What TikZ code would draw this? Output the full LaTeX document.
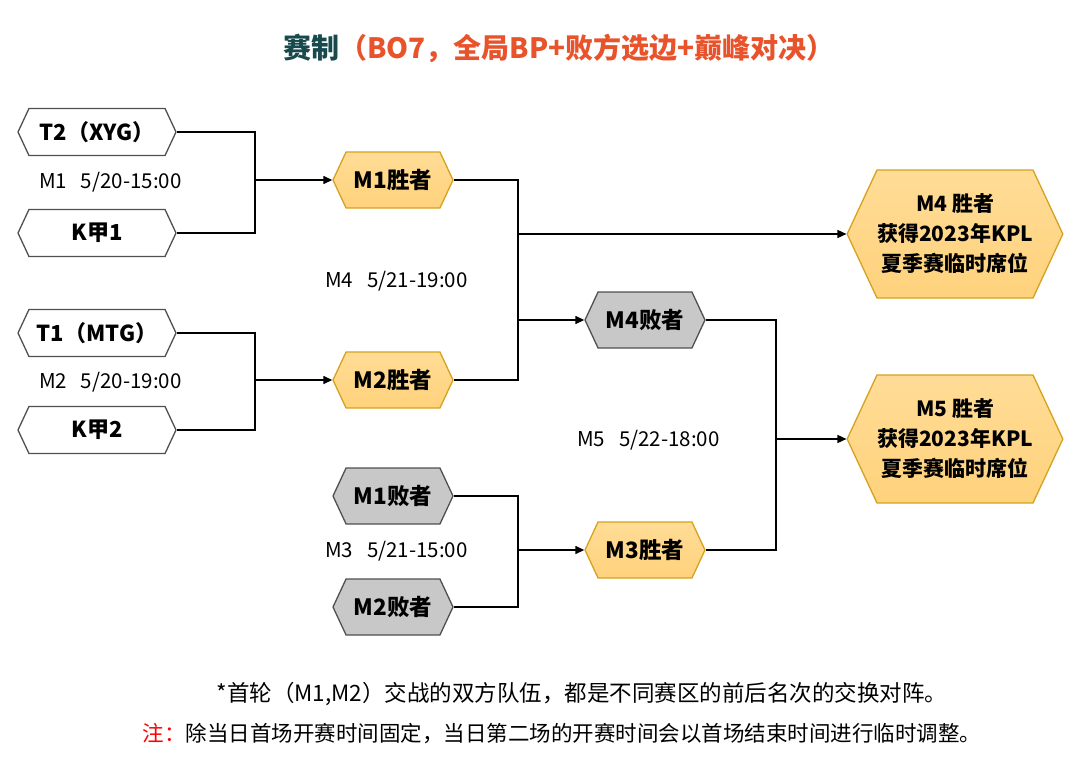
\documentclass[tikz,border=0pt]{standalone}
\usepackage{fontspec}
\setmainfont{Noto Sans CJK SC}
\usetikzlibrary{shapes.symbols,arrows.meta}
\definecolor{titleteal}{HTML}{17494D}
\definecolor{titleorange}{HTML}{E8532B}
\definecolor{goldborder}{HTML}{D6A21E}
\definecolor{goldtop}{HTML}{FFDC96}
\definecolor{goldbot}{HTML}{FFD27C}
\definecolor{grayfill}{HTML}{C8C8C8}
\definecolor{hexborder}{HTML}{505050}
\tikzset{
  hexbase/.style={signal, signal to=east and west, signal pointer angle=130,
    inner sep=0pt, line width=1.3pt, font=\fontsize{22.5}{26}\selectfont\bfseries},
  teambox/.style={hexbase, draw=hexborder, fill=white, minimum width=158pt, minimum height=47pt, font=\fontsize{22}{26}\selectfont\bfseries},
  winbox/.style={hexbase, draw=goldborder, top color=goldtop, bottom color=goldbot, minimum width=120pt, minimum height=56pt},
  losebox/.style={hexbase, draw=hexborder, fill=grayfill, minimum width=120pt, minimum height=56pt},
  finalbox/.style={hexbase, draw=goldborder, top color=goldtop, bottom color=goldbot, minimum width=214pt, minimum height=128pt, align=center, font=\fontsize{21}{30}\selectfont\bfseries},
  link/.style={line width=1.5pt, black},
  arr/.style={link, -{Triangle[length=9pt,width=8pt]}},
  matchlabel/.style={anchor=west, inner sep=0pt, font=\fontsize{20.5}{24}\selectfont},
  notetext/.style={inner sep=0pt, font=\fontsize{21.5}{24}\selectfont}
}
\begin{document}
\begin{tikzpicture}[x=1pt,y=-1pt]
\useasboundingbox (0,0) rectangle (1082,771);
% title
\node[inner sep=0pt, font=\fontsize{28}{32}\selectfont\bfseries] (title) at (559,48)
  {\textcolor{titleteal}{赛制}\textcolor{titleorange}{（BO7，全局BP+败方选边+巅峰对决）}};
% teams
\node[teambox] (t2) at (97,132) {T2（XYG）};
\node[teambox] (k1) at (97,233) {K甲1};
\node[teambox] (t1) at (97,333) {T1（MTG）};
\node[teambox] (k2) at (97,430) {K甲2};
% second column
\node[winbox] (m1w) at (393,180) {M1胜者};
\node[winbox] (m2w) at (393,380) {M2胜者};
\node[losebox] (m1l) at (393,496) {M1败者};
\node[losebox] (m2l) at (393,607) {M2败者};
% third column
\node[losebox] (m4l) at (645,320) {M4败者};
\node[winbox] (m3w) at (645,550) {M3胜者};
% finals
\node[finalbox] (f4) at (955,234) {M4 胜者\\获得2023年KPL\\夏季赛临时席位};
\node[finalbox] (f5) at (955,439) {M5 胜者\\获得2023年KPL\\夏季赛临时席位};
% match labels
\node[matchlabel] (l1) at (39,182) {M1\ \ \ 5/20-15:00};
\node[matchlabel] (l2) at (39,382) {M2\ \ \ 5/20-19:00};
\node[matchlabel] (l4) at (325,281) {M4\ \ \ 5/21-19:00};
\node[matchlabel] (l3) at (325,551) {M3\ \ \ 5/21-15:00};
\node[matchlabel] (l5) at (577,440) {M5\ \ \ 5/22-18:00};
% junctions
\coordinate (ja) at (255,180);
\coordinate (jb) at (255,380);
\coordinate (jc) at (518,320);
\coordinate (jc2) at (518,234);
\coordinate (jd) at (776,439);
\coordinate (je) at (518,550);
% connectors
\draw[link] (t2.east) -| (ja) |- (k1.east);
\draw[arr] (ja) -- (m1w.west);
\draw[link] (t1.east) -| (jb) |- (k2.east);
\draw[arr] (jb) -- (m2w.west);
\draw[link] (m1w.east) -| (jc) |- (m2w.east);
\draw[arr] (jc) -- (m4l.west);
\draw[arr] (jc2) -- (f4.west);
\draw[link] (m4l.east) -| (jd) |- (m3w.east);
\draw[arr] (jd) -- (f5.west);
\draw[link] (m1l.east) -| (je) |- (m2l.east);
\draw[arr] (je) -- (m3w.west);
% notes
\node[notetext, font=\fontsize{22.5}{26}\selectfont] (n1) at (582,694) {*首轮（M1,M2）交战的双方队伍，都是不同赛区的前后名次的交换对阵。};
\node[notetext] (n2) at (562,734) {\textcolor{red}{注：}除当日首场开赛时间固定，当日第二场的开赛时间会以首场结束时间进行临时调整。};
\end{tikzpicture}
\end{document}
